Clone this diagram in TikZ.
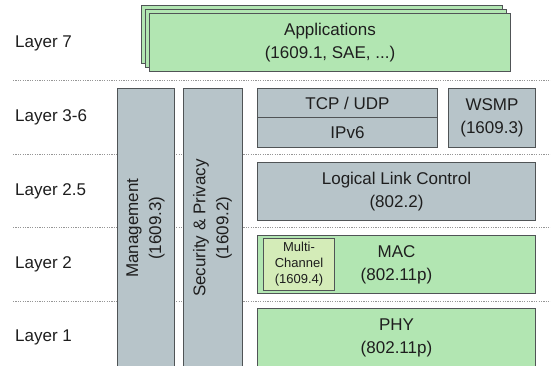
\documentclass[tikz,border=0pt]{standalone}
\usepackage{fontspec}
\setmainfont{Liberation Sans}
\definecolor{boxgreen}{RGB}{178,230,178}
\definecolor{boxgray}{RGB}{183,196,201}
\definecolor{mcgreen}{RGB}{212,236,184}
\definecolor{edge}{RGB}{80,84,86}
\definecolor{txt}{RGB}{30,30,30}
\definecolor{dotc}{RGB}{150,150,150}
\begin{document}
\begin{tikzpicture}[x=1pt,y=-1pt,
  box/.style={draw=edge, line width=1pt, inner sep=0pt, align=center, text=txt,
    font=\fontsize{17}{23}\selectfont, anchor=north west},
  gbox/.style={box, fill=boxgreen},
  abox/.style={box, fill=boxgray},
  mcbox/.style={box, fill=mcgreen, font=\fontsize{13}{16}\selectfont},
  layerlbl/.style={anchor=west, inner sep=0pt, text=txt, font=\fontsize{17}{23}\selectfont},
  sepline/.style={draw=dotc, line width=0.9pt, dash pattern=on 1.2pt off 1.2pt}
]
\useasboundingbox (0,0) rectangle (551,365);
\begin{scope}
\clip (0,0) rectangle (551,365);
% layer separators
\foreach \yy/\nm in {80/s1,154/s2,227/s3,301/s4}{
  \coordinate (\nm a) at (13,\yy);
  \coordinate (\nm b) at (551,\yy);
  \draw[sepline] (\nm a) -- (\nm b);
}
% layer labels
\node[layerlbl] (l7) at (15,43) {Layer 7};
\node[layerlbl] (l36) at (15,117) {Layer 3-6};
\node[layerlbl] (l25) at (15,191) {Layer 2.5};
\node[layerlbl] (l2) at (15,264) {Layer 2};
\node[layerlbl] (l1) at (15,337) {Layer 1};
% applications stack
\node[gbox, minimum width=361pt, minimum height=58pt] (app3) at (141,5) {};
\node[gbox, minimum width=361pt, minimum height=58pt] (app2) at (145,9) {};
\node[gbox, minimum width=361pt, minimum height=58pt] (app1) at (149,13) {Applications\\(1609.1, SAE, ...)};
% vertical bars
\node[abox, anchor=center, rotate=90, minimum width=280pt, minimum height=57pt] (mgmt) at (145.5,228) {Management\\(1609.3)};
\node[abox, anchor=center, rotate=90, minimum width=280pt, minimum height=59pt] (sec) at (212.5,228) {Security \& Privacy\\(1609.2)};
% layer 3-6
\node[abox, minimum width=180pt, minimum height=29pt] (tcp) at (257,88) {TCP / UDP};
\node[abox, minimum width=180pt, minimum height=30pt] (ipv6) at (257,117) {IPv6};
\node[abox, minimum width=87pt, minimum height=59pt] (wsmp) at (448,88) {WSMP\\(1609.3)};
% layer 2.5
\node[abox, minimum width=278pt, minimum height=58pt] (llc) at (257,162) {Logical Link Control\\(802.2)};
% layer 2
\node[gbox, minimum width=278pt, minimum height=58pt] (mac) at (257,235) {MAC\\(802.11p)};
\node[mcbox, minimum width=71pt, minimum height=52pt] (mc) at (263,238) {Multi-\\Channel\\(1609.4)};
% layer 1
\node[gbox, minimum width=278pt, minimum height=58pt] (phy) at (257,308) {PHY\\(802.11p)};
\end{scope}
\end{tikzpicture}
\end{document}
